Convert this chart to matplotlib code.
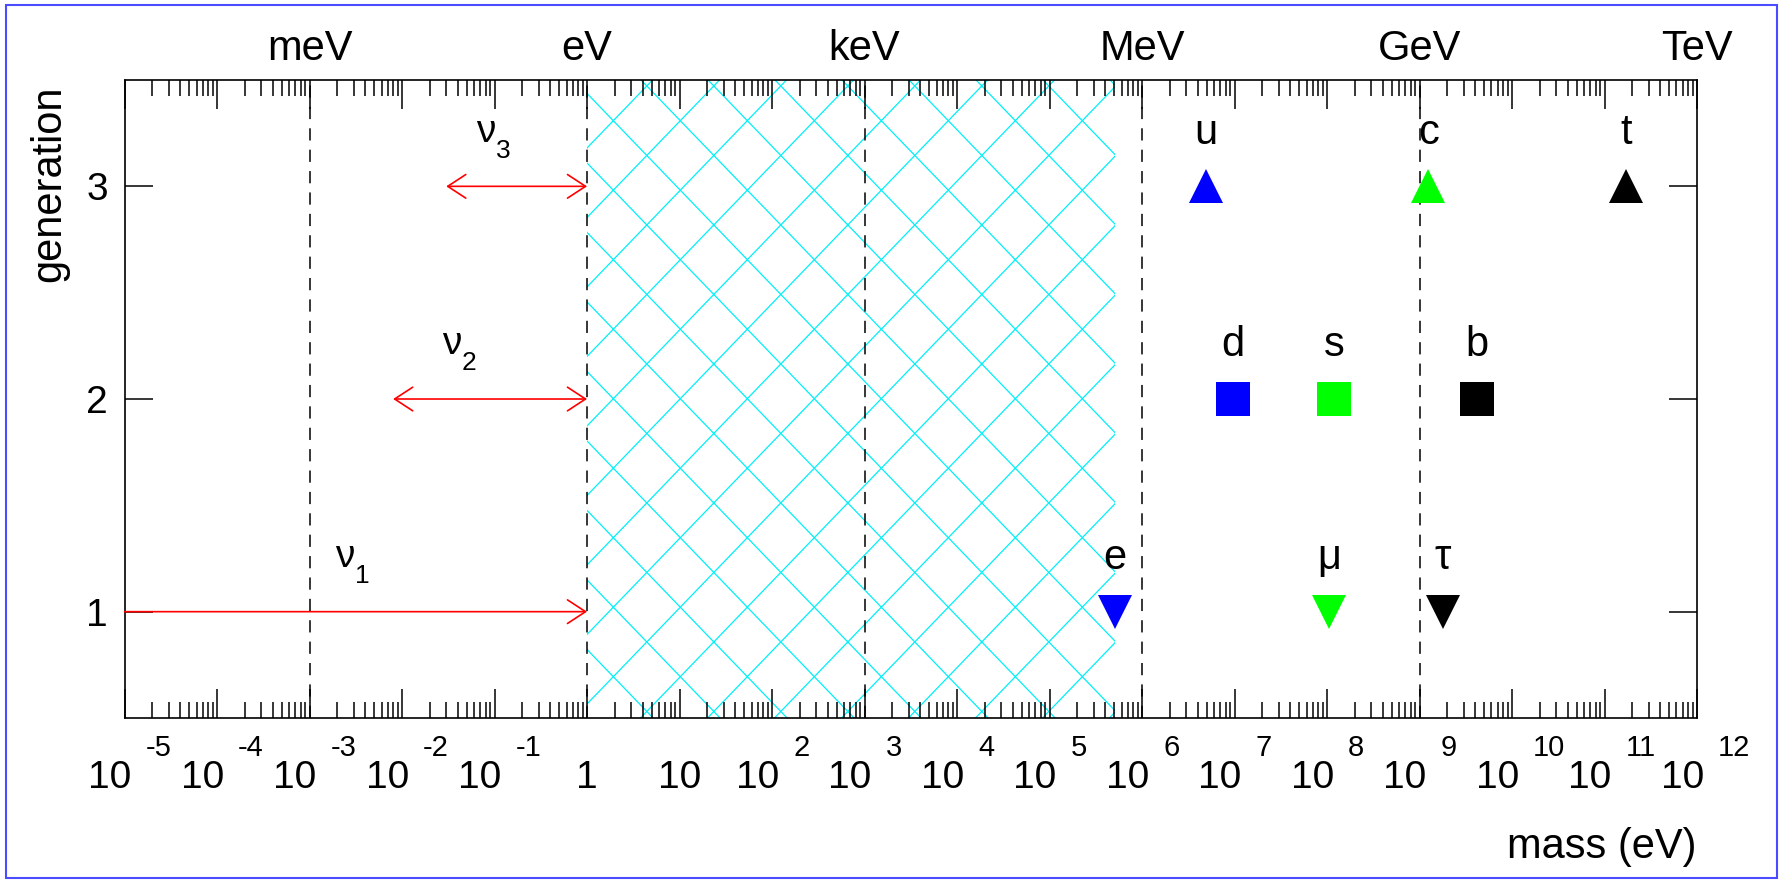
import numpy as np
import matplotlib
matplotlib.use('Agg')
import matplotlib.pyplot as plt
from matplotlib.ticker import LogLocator, NullFormatter, FixedLocator
from matplotlib.collections import LineCollection
from matplotlib.patches import Rectangle
from matplotlib.transforms import offset_copy

plt.rcParams['font.family'] = ['Liberation Sans', 'DejaVu Sans']

# charged fermions: label, mass (eV), row, marker, colour
names = ['u', 'c', 't', 'd', 's', 'b', 'e', 'μ', 'τ']
masses = [4.9e6, 1.25e9, 1.72e11, 9.6e6, 1.19e8, 4.14e9, 5.11e5, 1.06e8, 1.78e9]
rows = [3, 3, 3, 2, 2, 2, 1, 1, 1]
markers = ['^', '^', '^', 's', 's', 's', 'v', 'v', 'v']
colors = ['#0000ff', '#00ff00', '#000000'] * 3

# neutrino mass ranges (upper limits)
nu_index = ['1', '2', '3']
nu_low = [1e-5, 8e-3, 3e-2]
nu_high = [1.0, 1.0, 1.0]
nu_rows = [1, 2, 3]
nu_label_x = [2.4e-3, 3.4e-2, 8.1e-2]

# excluded band
band = [1.0, 5.11e5]

# unit markers
unit_names = ['meV', 'eV', 'keV', 'MeV', 'GeV', 'TeV']
unit_vals = [1e-3, 1.0, 1e3, 1e6, 1e9, 1e12]

decades = list(range(-5, 13))

fig = plt.figure(figsize=(17.85, 8.81), dpi=100)
ax = fig.add_axes([0.0698, 0.185, 0.8809, 0.7242])
ax.set_xscale('log')
ax.set_xlim(1e-5, 1e12)
ax.set_ylim(0.5, 3.5)

# cross hatch, drawn by hand (pixel space) so the spacing matches
span = ax.axvspan(band[0], band[1], facecolor='none', edgecolor='none')
x0, y0 = 613.3, 760.3   # one crossing point, in pixels
hy = 69.5               # vertical distance between parallel lines
slope = hy / 67.0
xs = np.array([-200.0, 2000.0])
segs = []
for n in range(-40, 60):
    for sgn in (1, -1):
        ys = y0 + sgn * slope * (xs - x0) + n * hy
        segs.append(list(zip(xs / 100, ys / 100)))
lc = LineCollection(segs, colors='#00f0f8', linewidths=0.9,
                    transform=fig.dpi_scale_trans, zorder=1.5)
ax.add_collection(lc, autolim=False)
lc.set_clip_path(span)

for v in unit_vals[:-1]:
    ax.axvline(v, color='black', lw=1.1, linestyle=(0, (8, 6)), zorder=2)

xtr = ax.get_xaxis_transform()
for name, v in zip(unit_names, unit_vals):
    ax.text(v, 1.031, name, transform=xtr, ha='center', va='baseline', fontsize=30)

for m, r, mk, c, nm in zip(masses, rows, markers, colors, names):
    ax.plot([m], [r], marker=mk, color=c, markersize=25 if mk == 's' else 24,
            markeredgewidth=0, linestyle='none', zorder=4)
    ax.text(m, r + 0.2, nm, ha='center', va='baseline', fontsize=30)

sub_tr = offset_copy(ax.transData, fig, x=10, y=-16, units='dots')
for lo, hi, r, idx, lx in zip(nu_low, nu_high, nu_rows, nu_index, nu_label_x):
    style = '->' if lo <= 1e-5 else '<->'
    ax.annotate('', xy=(hi, r), xytext=(lo, r),
                arrowprops=dict(arrowstyle=style + ',head_length=1.3,head_width=0.85',
                                mutation_scale=10, color='red', lw=1.2,
                                shrinkA=0, shrinkB=0), zorder=3)
    ax.text(lx, r + 0.21, 'ν', ha='center', va='baseline', fontsize=28)
    ax.text(lx, r + 0.21, idx, transform=sub_tr, ha='left', va='baseline', fontsize=19)

# ROOT style tick labels: big "10" left of the tick, exponent up to the right
base_tr = offset_copy(xtr, fig, x=7, y=0, units='dots')
exp_tr = offset_copy(xtr, fig, x=21, y=0, units='dots')
for e in decades:
    v = 10.0 ** e
    if e == 0 or e == 1:
        ax.text(v, -0.1097, str(int(v)), transform=xtr, ha='center',
                va='baseline', fontsize=28)
    else:
        ax.text(v, -0.1097, '10', transform=base_tr, ha='right',
                va='baseline', fontsize=28)
        ax.text(v, -0.06, str(e), transform=exp_tr, ha='left',
                va='baseline', fontsize=21)

ax.xaxis.set_major_locator(LogLocator(base=10, numticks=40))
ax.xaxis.set_minor_locator(LogLocator(base=10, subs=np.arange(2, 10), numticks=40))
ax.xaxis.set_major_formatter(NullFormatter())
ax.xaxis.set_minor_formatter(NullFormatter())
ax.yaxis.set_major_locator(FixedLocator([1, 2, 3]))

ax.tick_params(axis='x', which='major', direction='in', top=True, length=21, width=1.1)
ax.tick_params(axis='x', which='minor', direction='in', top=True, length=11.5, width=1.1)
ax.tick_params(axis='y', which='major', direction='in', right=True, length=20,
               width=1.1, labelsize=28, pad=12)
for s in ax.spines.values():
    s.set_linewidth(1.2)

ax.text(-0.048, 0.992, 'generation', transform=ax.transAxes, rotation=90,
        ha='center', va='top', fontsize=30)
ax.text(1.0, -0.219, 'mass (eV)', transform=ax.transAxes,
        ha='right', va='baseline', fontsize=30)

fig.patches.append(Rectangle((6 / 1785, 3 / 881), 1771 / 1785, 873 / 881,
                             transform=fig.transFigure, fill=False,
                             edgecolor='#4b4bff', lw=1.5))

fig.savefig('out.png', dpi=100)
